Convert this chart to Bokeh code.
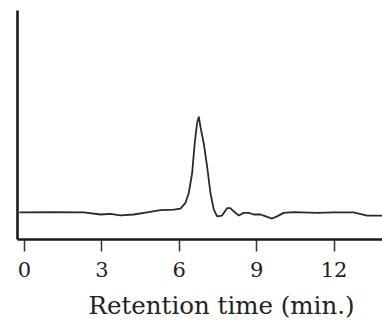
from bokeh.plotting import figure
from bokeh.models import Range1d, FixedTicker, Title
from bokeh.embed import file_html
from bokeh.resources import INLINE

# Retention time (min) and detector response (arbitrary units)
time_min = [-0.2, 1.01, 2.30, 2.95, 3.33, 3.72, 4.24, 4.75, 5.27, 5.79, 6.05, 6.24,
            6.37, 6.50, 6.60, 6.69, 6.76, 6.82, 6.95, 7.08, 7.21, 7.34, 7.47, 7.66,
            7.86, 7.98, 8.11, 8.31, 8.50, 8.69, 8.89, 9.15, 9.41, 9.60, 9.79, 10.05,
            10.44, 11.34, 11.99, 12.76, 13.28, 13.88]
response = [1.01, 1.02, 1.01, 0.93, 0.95, 0.90, 0.93, 1.01, 1.09, 1.11, 1.15, 1.36,
            1.73, 2.47, 3.58, 4.32, 4.57, 4.20, 3.58, 2.72, 1.73, 1.11, 0.86, 0.89,
            1.17, 1.17, 1.05, 0.89, 0.99, 0.99, 0.93, 0.93, 0.84, 0.78, 0.86, 0.99,
            1.02, 0.99, 1.01, 1.01, 0.89, 0.89]
x_ticks = [0, 3, 6, 9, 12]
x_label = "Retention time (min.)"

p = figure(width=382, height=329, output_backend="svg", toolbar_location=None,
           x_range=Range1d(-0.27, 13.88), y_range=Range1d(0, 8.52),
           min_border_left=17, min_border_right=0, min_border_top=10,
           min_border_bottom=89)
p.outline_line_color = None
p.grid.visible = False
p.background_fill_color = "white"
p.border_fill_color = "white"

p.line(time_min, response, line_color="#2a2a2a", line_width=1.8)

xa = p.xaxis[0]
xa.ticker = FixedTicker(ticks=x_ticks)
xa.axis_line_width = 2.6
xa.axis_line_color = "#1a1a1a"
xa.major_tick_in = 0
xa.major_tick_out = 12
xa.major_tick_line_width = 1.5
xa.major_tick_line_color = "#333333"
xa.minor_tick_line_color = None
xa.major_label_text_font = "DejaVu Serif"
xa.major_label_text_font_size = "21px"
xa.major_label_text_color = "#222222"
xa.major_label_standoff = 10

title = Title(text=x_label, align="left", offset=71, standoff=19,
              text_font="DejaVu Serif", text_font_size="24.5px",
              text_font_style="normal", text_color="#222222")
p.add_layout(title, "below")

ya = p.yaxis[0]
ya.ticker = FixedTicker(ticks=[])
ya.axis_line_width = 2.6
ya.axis_line_color = "#1a1a1a"
ya.major_tick_line_color = None
ya.minor_tick_line_color = None
ya.major_label_text_font_size = "0px"

open("out.html", "w").write(file_html(p, INLINE))
